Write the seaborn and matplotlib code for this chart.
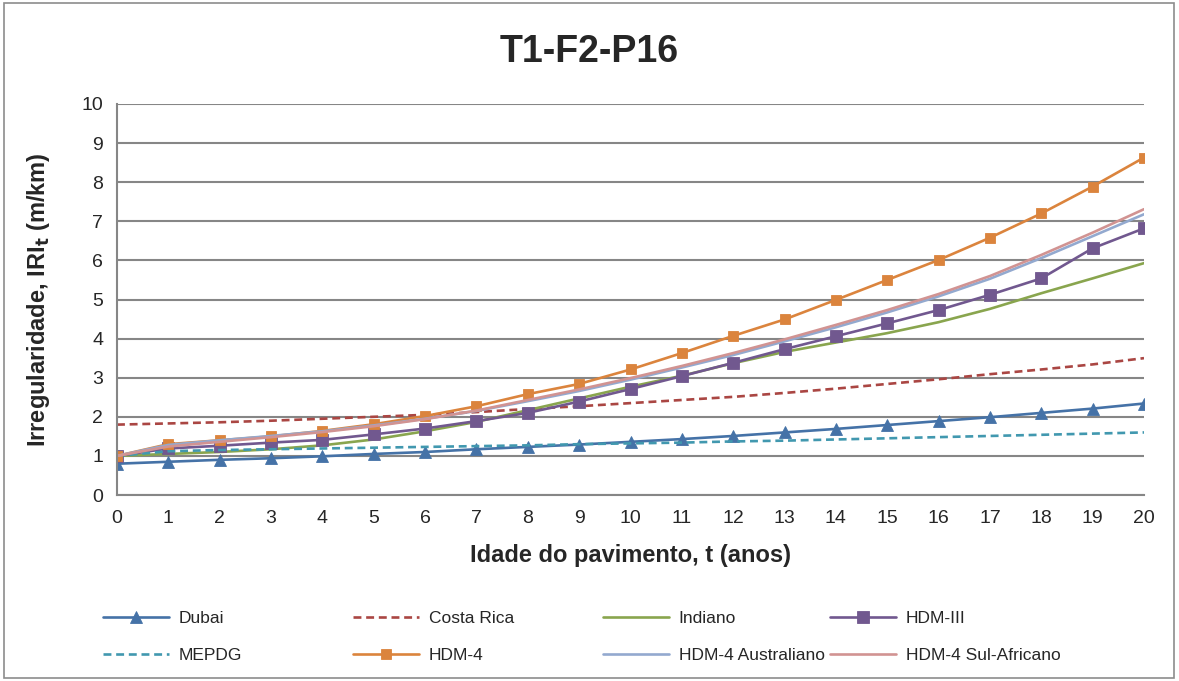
import matplotlib
matplotlib.use("Agg")
import matplotlib.pyplot as plt
from matplotlib.patches import Rectangle
import pandas as pd
import seaborn as sns

# Data
idade = list(range(21))
dubai = [0.80, 0.85, 0.90, 0.94, 0.99, 1.05, 1.10, 1.17, 1.23, 1.29, 1.36,
         1.43, 1.51, 1.60, 1.69, 1.79, 1.89, 1.99, 2.10, 2.21, 2.34]
costa_rica = [1.80, 1.83, 1.86, 1.90, 1.95, 2.00, 2.05, 2.12, 2.20, 2.27, 2.35,
              2.43, 2.51, 2.61, 2.72, 2.84, 2.96, 3.09, 3.21, 3.34, 3.50]
indiano = [1.00, 1.05, 1.10, 1.17, 1.27, 1.42, 1.63, 1.87, 2.17, 2.47, 2.77,
           3.05, 3.37, 3.66, 3.90, 4.14, 4.42, 4.76, 5.16, 5.54, 5.93]
hdm_iii = [1.00, 1.19, 1.26, 1.34, 1.41, 1.55, 1.70, 1.89, 2.10, 2.39, 2.71,
           3.04, 3.38, 3.73, 4.06, 4.39, 4.73, 5.12, 5.54, 6.31, 6.82]
mepdg = [1.00, 1.12, 1.15, 1.17, 1.19, 1.21, 1.23, 1.25, 1.27, 1.30, 1.32,
         1.34, 1.37, 1.39, 1.42, 1.45, 1.48, 1.51, 1.54, 1.57, 1.60]
hdm_4 = [1.00, 1.30, 1.40, 1.50, 1.64, 1.81, 2.02, 2.27, 2.58, 2.84, 3.21,
         3.63, 4.07, 4.49, 4.99, 5.50, 6.01, 6.58, 7.20, 7.89, 8.63]
hdm_4_aus = [1.00, 1.28, 1.40, 1.51, 1.63, 1.78, 1.95, 2.15, 2.40, 2.66, 2.95,
             3.26, 3.58, 3.93, 4.29, 4.67, 5.08, 5.53, 6.06, 6.62, 7.18]
hdm_4_sa = [1.00, 1.24, 1.36, 1.48, 1.61, 1.76, 1.94, 2.16, 2.43, 2.70, 2.99,
            3.30, 3.63, 3.98, 4.35, 4.73, 5.14, 5.60, 6.14, 6.71, 7.31]

dash = (0, (3, 1.8))
series = [
    ("Dubai", dubai, "#4572A7", "-", "^", 8),
    ("Costa Rica", costa_rica, "#AA4643", dash, None, 0),
    ("Indiano", indiano, "#89A54E", "-", None, 0),
    ("HDM-III", hdm_iii, "#71588F", "-", "s", 9),
    ("MEPDG", mepdg, "#4198AF", dash, None, 0),
    ("HDM-4", hdm_4, "#DB843D", "-", "s", 7),
    ("HDM-4 Australiano", hdm_4_aus, "#93A9CF", "-", None, 0),
    ("HDM-4 Sul-Africano", hdm_4_sa, "#D19392", "-", None, 0),
]

sns.set_style("white")
plt.rcParams['font.family'] = ['Liberation Sans', 'DejaVu Sans']

fig, ax = plt.subplots(figsize=(11.79, 6.81), dpi=100)
fig.subplots_adjust(left=117/1179, right=1144/1179, top=1-104/681, bottom=1-495/681)

for name, vals, col, ls, mk, ms in series:
    df = pd.DataFrame({"t": idade, "iri": vals})
    kw = dict(linestyle=ls, linewidth=1.9)
    if mk:
        kw.update(marker=mk, markersize=ms, markeredgewidth=0.6,
                  markeredgecolor=col)
    sns.lineplot(data=df, x="t", y="iri", ax=ax, color=col, label=name,
                 legend=False, **kw)

if ax.get_legend():
    ax.get_legend().remove()

ax.set_xlim(0, 20)
ax.set_ylim(0, 10)
ax.set_xticks(range(0, 21))
ax.set_yticks(range(0, 11))
grid_col = "#868686"
ax.yaxis.grid(True, color=grid_col, linewidth=1.5)
ax.set_axisbelow(True)
for s in ["top", "right"]:
    ax.spines[s].set_visible(False)
ax.spines["left"].set_color(grid_col)
ax.spines["bottom"].set_color(grid_col)
ax.spines["left"].set_linewidth(1.5)
ax.spines["bottom"].set_linewidth(1.5)
ax.tick_params(axis="both", direction="out", length=6, width=1.2,
               color=grid_col, labelsize=14, pad=4)
ax.tick_params(axis="x", pad=5)

ax.set_xlabel("Idade do pavimento, t (anos)", fontsize=17, fontweight="bold",
              labelpad=12)
ax.set_ylabel("Irregularidade, IRI$_\\mathbf{t}$ (m/km)", fontsize=17,
              fontweight="bold", labelpad=21)
fig.text(0.5, 1-52/681, "T1-F2-P16", ha="center", va="center",
         fontsize=27, fontweight="bold")

# legend: 4 columns, each with two rows (Excel-like layout)
handles, labels = ax.get_legend_handles_labels()
lookup = dict(zip(labels, handles))
cols = [("Dubai", "MEPDG"), ("Costa Rica", "HDM-4"),
        ("Indiano", "HDM-4 Australiano"), ("HDM-III", "HDM-4 Sul-Africano")]
col_x = [103, 353, 603, 830]
for x0, names in zip(col_x, cols):
    fig.legend([lookup[n] for n in names], list(names), loc="upper left",
               bbox_to_anchor=(x0/1179, 1-611/681), frameon=False,
               fontsize=12.5, handlelength=3.8, handletextpad=0.55,
               labelspacing=1.25, borderpad=0, borderaxespad=0)

fig.add_artist(Rectangle((0.003, 0.004), 0.993, 0.992, transform=fig.transFigure,
                         fill=False, edgecolor="#8c8c8c", linewidth=1.2))

fig.savefig("out.png", dpi=100)
